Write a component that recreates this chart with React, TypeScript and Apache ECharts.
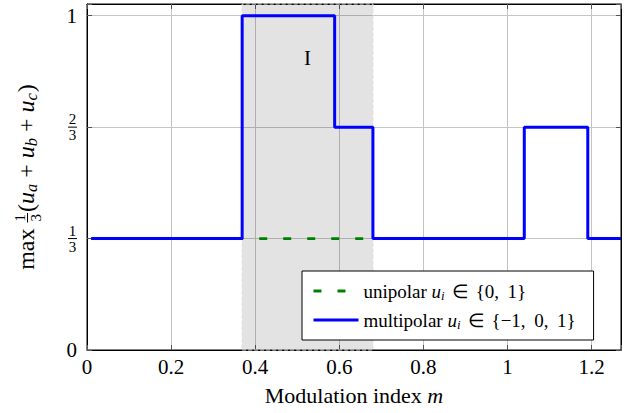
import React, { useEffect, useRef } from 'react';
import * as echarts from 'echarts';

// ---- data ----
const xTickValues = [0, 0.2, 0.4, 0.6, 0.8, 1, 1.2];
const xTickLabels = ['0', '0.2', '0.4', '0.6', '0.8', '1', '1.2'];
const yTickValues = [0, 1 / 3, 2 / 3, 1];
const yTickLabels = ['0', '1/3', '2/3', '1'];
const seriesNames = ['unipolar', 'multipolar'];
const legendSets = ['{0,\u2009 1}', '{\u22121,\u2009 0,\u2009 1}'];
const unipolarM = [0.01, 0.68];
const unipolarV = [1 / 3, 1 / 3];
const multipolarM = [0.01, 0.369, 0.589, 0.68, 1.04, 1.191, 1.27];
const multipolarV = [1 / 3, 1, 2 / 3, 1 / 3, 2 / 3, 1 / 3, 1 / 3];
const regionI = [0.369, 0.68];
const regionLabel = 'I';

const SERIF = '"Liberation Serif", "Times New Roman", serif';

function matchIndex(values: number[], v: number) {
  for (let i = 0; i < values.length; i++) if (Math.abs(values[i] - v) < 1e-6) return i;
  return -1;
}

function buildYTitle() {
  const ctx = document.createElement('canvas').getContext('2d')!;
  const measure = (t: string, size: number, italic = false) => {
    ctx.font = `${italic ? 'italic ' : ''}${size}px "Liberation Serif"`;
    return ctx.measureText(t).width;
  };
  const MAIN = 24;
  const SUB = 16.5;
  const FR = 15;
  const children: any[] = [];
  let x = 0;
  const txt = (t: string, size: number, italic: boolean, y: number) => {
    children.push({
      type: 'text',
      x,
      y,
      style: {
        text: t,
        fontFamily: SERIF,
        fontSize: size,
        fontStyle: italic ? 'italic' : 'normal',
        fill: '#000',
        align: 'left',
        verticalAlign: 'middle',
        textAlign: 'left',
        textVerticalAlign: 'middle',
      },
    });
    x += measure(t, size, italic);
  };
  txt('max', MAIN, false, 0);
  x += 6;
  // fraction 1/3
  const fw = Math.max(measure('1', FR), measure('3', FR)) + 2;
  const fx = x;
  children.push({
    type: 'text', x: fx + fw / 2, y: -6,
    style: { text: '1', fontFamily: SERIF, fontSize: FR, fill: '#000', align: 'center', verticalAlign: 'middle', textAlign: 'center', textVerticalAlign: 'middle' },
  });
  children.push({
    type: 'line', shape: { x1: fx, y1: 2, x2: fx + fw, y2: 2 }, style: { stroke: '#000', lineWidth: 1 },
  });
  children.push({
    type: 'text', x: fx + fw / 2, y: 10.5,
    style: { text: '3', fontFamily: SERIF, fontSize: FR, fill: '#000', align: 'center', verticalAlign: 'middle', textAlign: 'center', textVerticalAlign: 'middle' },
  });
  x += fw + 1;
  txt('(', MAIN, false, 0);
  const subs = ['a', 'b', 'c'];
  subs.forEach((s, i) => {
    txt('u', MAIN, true, 0);
    txt(s, SUB, true, 6);
    if (i < subs.length - 1) {
      x += 6;
      txt('+', MAIN, false, 0);
      x += 6;
    }
  });
  x += 1;
  txt(')', MAIN, false, 0);
  const total = x;
  return {
    type: 'group',
    x: 25.5,
    y: 177 + total / 2,
    rotation: Math.PI / 2,
    children,
  };
}

export default function App() {
  const ref = useRef<HTMLDivElement>(null);
  useEffect(() => {
    if (!ref.current) return;
    const chart = echarts.init(ref.current, null, { renderer: 'svg' });
    const xFormatter = (v: number) => {
      const i = matchIndex(xTickValues, v);
      return i < 0 ? '' : xTickLabels[i];
    };
    const yFormatter = (v: number) => {
      const i = matchIndex(yTickValues, v);
      if (i < 0) return '';
      const lab = yTickLabels[i];
      if (lab.includes('/')) {
        const [n, d] = lab.split('/');
        return `{n|${n}}\n{b| }\n{d|${d}}`;
      }
      return lab;
    };
    const tickStyle = { show: true, inside: true, length: 5, lineStyle: { color: '#555', width: 1 } };
    const option: any = {
      animation: false,
      backgroundColor: '#fff',
      grid: { left: 87, right: 12, top: 4, bottom: 63, show: true, borderColor: '#000', borderWidth: 1 },
      xAxis: [
        {
          type: 'value', min: 0, max: 1.27, interval: 0.2, position: 'bottom',
          axisLine: { show: true, onZero: false, lineStyle: { color: '#000', width: 1 } },
          axisTick: tickStyle,
          axisLabel: { formatter: xFormatter, fontFamily: SERIF, fontSize: 21, color: '#000', margin: 6 },
          splitLine: { show: true, lineStyle: { color: '#c4c4c4', width: 1 } },
          name: '{r|Modulation index }{i|m}',
          nameLocation: 'middle',
          nameGap: 34,
          nameTextStyle: {
            fontFamily: SERIF, fontSize: 22, color: '#000',
            rich: {
              r: { fontFamily: SERIF, fontSize: 22, color: '#000' },
              i: { fontFamily: SERIF, fontSize: 22, color: '#000', fontStyle: 'italic' },
            },
          },
        },
        {
          type: 'value', min: 0, max: 1.27, interval: 0.2, position: 'top',
          axisLine: { show: true, onZero: false, lineStyle: { color: '#000', width: 1 } },
          axisTick: tickStyle, axisLabel: { show: false }, splitLine: { show: false },
        },
      ],
      yAxis: [
        {
          type: 'value', min: 0, max: 1.035, interval: 1 / 3,
          axisLine: { show: true, onZero: false, lineStyle: { color: '#000', width: 1 } },
          axisTick: tickStyle,
          axisLabel: {
            formatter: yFormatter, fontFamily: SERIF, fontSize: 21, color: '#000', margin: 10,
            rich: {
              n: { fontFamily: SERIF, fontSize: 15, lineHeight: 13, align: 'center', color: '#000' },
              b: { fontFamily: SERIF, fontSize: 1, width: 9, height: 1, lineHeight: 3, backgroundColor: '#000', align: 'center' },
              d: { fontFamily: SERIF, fontSize: 15, lineHeight: 13, align: 'center', color: '#000' },
            },
          },
          splitLine: { show: true, lineStyle: { color: '#c4c4c4', width: 1 } },
        },
        {
          type: 'value', min: 0, max: 1.035, interval: 1 / 3, position: 'right',
          axisLine: { show: true, onZero: false, lineStyle: { color: '#000', width: 1 } },
          axisTick: tickStyle, axisLabel: { show: false }, splitLine: { show: false },
        },
      ],
      legend: {
        orient: 'vertical', left: 302, top: 271,
        padding: [10, 18, 9, 10], itemGap: 8, itemWidth: 45, itemHeight: 14,
        borderColor: '#000', borderWidth: 1, backgroundColor: '#fff', borderRadius: 0,
        data: seriesNames,
        itemStyle: { opacity: 0, borderWidth: 0 },
        lineStyle: { width: 'inherit', type: 'inherit' },
        formatter: (name: string) => {
          const i = seriesNames.indexOf(name);
          return `{r|${name} }{i|u}{s|i}{e|\u2208}${legendSets[i]}`;
        },
        textStyle: {
          fontFamily: SERIF, fontSize: 19, color: '#000', lineHeight: 20,
          rich: {
            r: { fontFamily: SERIF, fontSize: 19, color: '#000' },
            i: { fontFamily: SERIF, fontSize: 19, fontStyle: 'italic', color: '#000' },
            s: { fontFamily: SERIF, fontSize: 13, fontStyle: 'italic', color: '#000', padding: [9, 0, 0, 0] },
            e: { fontFamily: SERIF, fontSize: 19, color: '#000', padding: [0, 7, 0, 7] },
          },
        },
      },
      graphic: [buildYTitle()],
      series: [
        {
          name: seriesNames[0], type: 'line', symbol: 'none', z: 3,
          data: unipolarM.map((m, i) => [m, unipolarV[i]]),
          lineStyle: { color: '#008000', width: 2.8, type: [8, 16] },
          itemStyle: { color: '#008000' },
          markArea: {
            silent: true,
            itemStyle: { color: 'rgba(0,0,0,0.11)', borderColor: '#dcdcdc', borderWidth: 1, borderType: 'dashed' },
            label: { show: true, position: 'insideTop', distance: 44, formatter: regionLabel, fontFamily: SERIF, fontSize: 21, color: '#000' },
            data: [[{ xAxis: regionI[0] }, { xAxis: regionI[1] }]],
          },
        },
        {
          name: seriesNames[1], type: 'line', symbol: 'none', step: 'end', z: 4,
          data: multipolarM.map((m, i) => [m, multipolarV[i]]),
          lineStyle: { color: '#0000ff', width: 3 },
          itemStyle: { color: '#0000ff' },
        },
      ],
    };
    chart.setOption(option);
    return () => chart.dispose();
  }, []);
  return <div ref={ref} style={{ width: 633, height: 413, position: 'absolute', left: 0, top: 0 }} />;
}
